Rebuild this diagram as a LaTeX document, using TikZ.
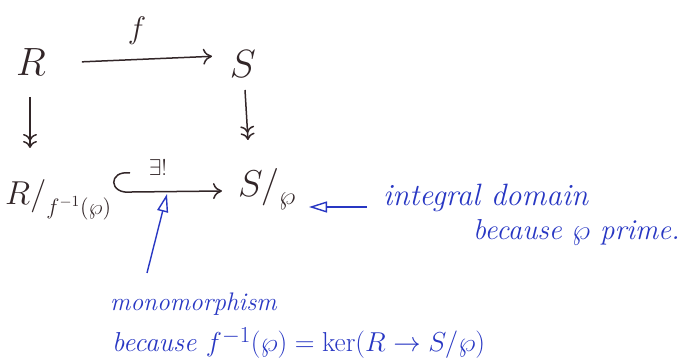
\documentclass[tikz,border=0pt]{standalone}
\usepackage{amsmath,amssymb,graphicx}
\usetikzlibrary{arrows.meta,calc}
\definecolor{pen}{RGB}{50,38,40}
\definecolor{ink}{RGB}{40,55,195}
\newcommand{\magnify}[2]{\scalebox{#1}{#2}}
\tikzset{
  obj/.style={text=pen, inner sep=0pt, font=\fontsize{20}{24}\selectfont},
  lbl/.style={text=pen, inner sep=0pt, font=\fontsize{20}{24}\selectfont},
  note/.style={text=ink, inner sep=0pt, anchor=base west, font=\fontsize{24.88}{28}\selectfont\itshape},
  mor/.style={draw=pen, line width=1.5pt, -{To[length=9pt,width=16pt]}},
  epi/.style={draw=pen, line width=1.5pt, -{To[length=7pt,width=14pt]To[length=7pt,width=14pt]}},
  bluearr/.style={draw=ink, line width=1.4pt, -{Triangle[open,length=18pt,width=11pt]}}
}
\begin{document}
\begin{tikzpicture}[x=1pt,y=-1pt]
\useasboundingbox (0,0) rectangle (681,363);
% objects
\node[obj] (R) at (31,62) {\magnify{1.9}{$R$}};
\node[obj] (S) at (243,64) {\magnify{1.9}{$S$}};
\node[obj, anchor=base west] (RQ) at (5,205) {\magnify{1.6}{$R/$}\raisebox{-10pt}{\magnify{1.55}{$\scriptstyle f^{-1}(\wp)$}}};
\node[obj, anchor=base west] (SQ) at (238,197) {\magnify{1.8}{$S/$}\raisebox{-8pt}{\magnify{1.8}{$\scriptstyle\wp$}}};
% morphisms
\draw[mor, shorten <=51pt, shorten >=31pt] ($(R.center)+(0,2)$) -- node[lbl, above=14pt] (fl) {\magnify{1.5}{$f$}} ($(S.center)+(0,-9)$);
\draw[epi] ($(R.center)+(-1,35)$) -- ($(R.center)+(-1,86)$);
\draw[epi] ($(S.center)+(2,26)$) -- ($(S.center)+(5,76)$);
\coordinate (h0) at (130,173);
\draw[mor] (h0) .. controls (108,170) and (108,195) .. (132,192) -- ($(SQ.base west)+(-16,-6)$);
\node[lbl] (ex) at (158,168) {\magnify{1.1}{$\exists!$}};
% annotations
\coordinate (i1) at (367,207);
\coordinate (t1) at (309,207);
\draw[bluearr] (i1) -- (t1);
\node[note] (n1) at (383,206) {\magnify{1.24}{integral domain}};
\node[note] (n2) at (473,240) {\magnify{1.16}{because $\wp$ prime.}};
\coordinate (m0) at (147,273);
\coordinate (m1) at (167,194);
\draw[bluearr] (m0) -- (m1);
\node[note] (n3) at (110,311) {\magnify{1.02}{monomorphism}};
\node[note] (n4) at (112,352) {\magnify{1.1}{because $f^{-1}(\wp)=\ker(R\to S/\wp)$}};
\end{tikzpicture}
\end{document}
